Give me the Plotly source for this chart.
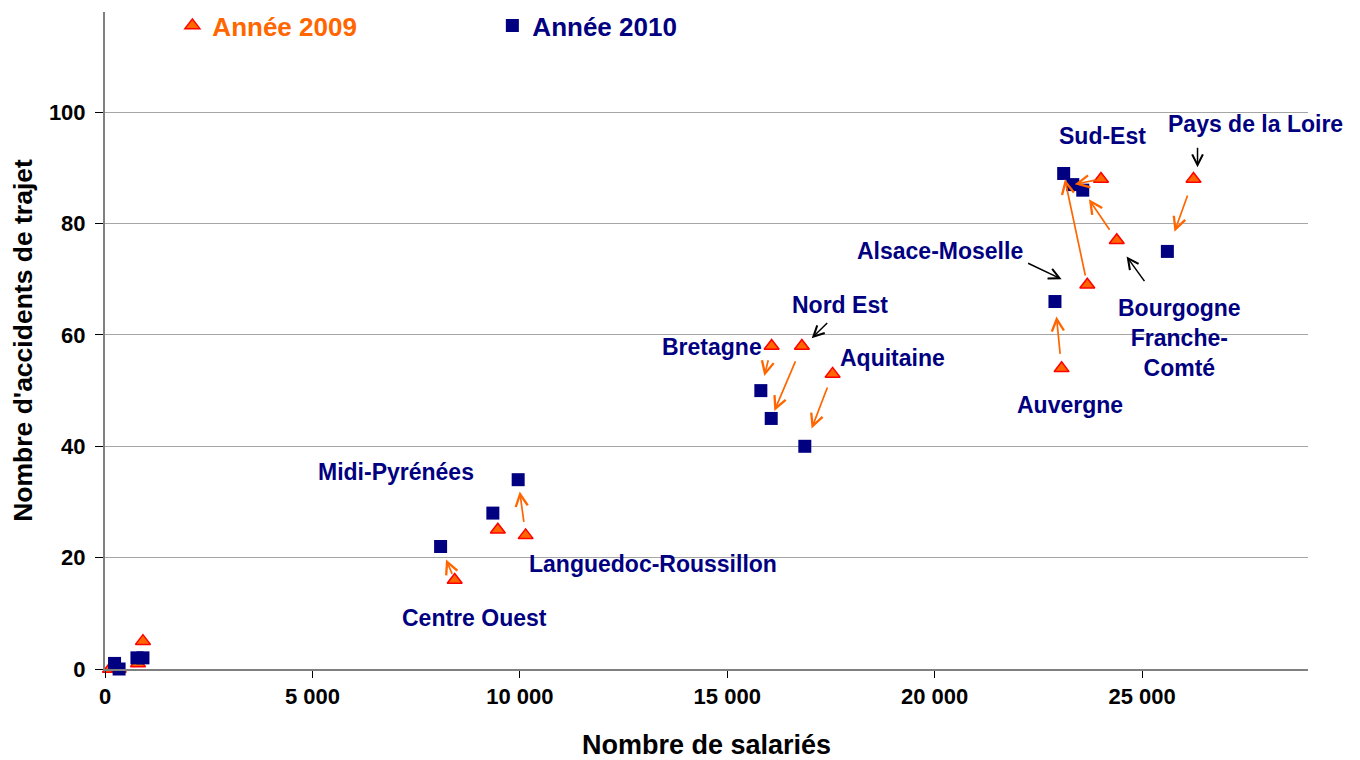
import plotly.graph_objects as go

# ---- data ----
sal_2009 = [8430, 9470, 10140, 16070, 16800, 17540, 23060, 23680, 24010, 24390, 26240, 120, 330, 795, 915]
acc_2009 = [16, 25, 24, 58, 58, 53, 54, 69, 88, 77, 88, 0, 0, 1, 5]
sal_2010 = [8090, 9350, 9960, 15810, 16060, 16870, 22900, 23110, 23330, 23570, 25610, 230, 340, 770, 915]
acc_2010 = [22, 28, 34, 50, 45, 40, 66, 89, 87, 86, 75, 1, 0, 2, 2]

x_tickvals = [0, 5000, 10000, 15000, 20000, 25000]
x_ticktext = ["0", "5 000", "10 000", "15 000", "20 000", "25 000"]
y_tickvals = [0, 20, 40, 60, 80, 100]

# region labels: text, x, y (label centres in data units)
label_text = ["Centre Ouest", "Midi-Pyrénées", "Languedoc-Roussillon", "Bretagne", "Nord Est",
              "Aquitaine", "Auvergne", "Alsace-Moselle", "Sud-Est", "Pays de la Loire",
              "Bourgogne<br>Franche-<br>Comté"]
label_x = [8916, 7012, 13205, 14627, 17711, 18988, 23253, 20120, 24048, 27735, 25904]
label_y = [9.2, 35.3, 18.9, 57.9, 65.3, 55.9, 47.5, 75.0, 95.7, 97.8, 59.4]

# orange arrows 2009 -> 2010 (index into the series) with tail / head standoffs (px)
arrow_idx = [0, 2, 3, 4, 5, 6, 7, 8, 9, 10]
arrow_start_off = [5, 12, 13, 15, 13, 13, 8, 4, 11, 16]
arrow_end_off = [14, 12, 15, 8, 19, 15, 6, 2, 11, 21]

# black pointer arrows: tail (x, y) -> head (x, y)
ptr_tail_x = [26337, 22217, 25084, 17446]
ptr_tail_y = [93.9, 73.0, 69.4, 62.4]
ptr_head_x = [26337, 23060, 24627, 17036]
ptr_head_y = [90.1, 70.0, 74.1, 59.4]

ORANGE = "#FF6600"
NAVY = "#000080"
FONT = "Liberation Sans"

fig = go.Figure()
fig.add_trace(go.Scatter(
    x=sal_2009, y=acc_2009, mode="markers",
    name="<span style='color:#FF6600'>Année 2009</span>",
    marker=dict(symbol="triangle-up", size=13, color=ORANGE, line=dict(color="#FF0000", width=1.5)),
    cliponaxis=False,
))
fig.add_trace(go.Scatter(
    x=sal_2010, y=acc_2010, mode="markers",
    name="<span style='color:#000080'>Année 2010</span>",
    marker=dict(symbol="square", size=13, color=NAVY, line=dict(width=0)),
    cliponaxis=False,
))

annotations = []
for k, i in enumerate(arrow_idx):
    annotations.append(dict(
        x=sal_2010[i], y=acc_2010[i], ax=sal_2009[i], ay=acc_2009[i],
        xref="x", yref="y", axref="x", ayref="y", text="", showarrow=True,
        arrowhead=5, arrowsize=1.4, arrowwidth=1.7, arrowcolor=ORANGE,
        standoff=arrow_end_off[k], startstandoff=arrow_start_off[k],
    ))
for tx, ty, hx, hy in zip(ptr_tail_x, ptr_tail_y, ptr_head_x, ptr_head_y):
    annotations.append(dict(
        x=hx, y=hy, ax=tx, ay=ty, xref="x", yref="y", axref="x", ayref="y",
        text="", showarrow=True, arrowhead=5, arrowsize=1.4, arrowwidth=1.5,
        arrowcolor="#000000",
    ))
for t, lx, ly in zip(label_text, label_x, label_y):
    annotations.append(dict(
        x=lx, y=ly, xref="x", yref="y", text=t, showarrow=False,
        font=dict(family=FONT, size=23, color=NAVY, weight="bold"),
        align="center", xanchor="center", yanchor="middle",
    ))

fig.update_layout(
    width=1352, height=752,
    margin=dict(l=97, r=52, t=4, b=91, autoexpand=False),
    paper_bgcolor="white", plot_bgcolor="white",
    font=dict(family=FONT, color="#000000"),
    showlegend=True,
    legend=dict(
        orientation="h", x=0.056, y=1.0152, xanchor="left", yanchor="top",
        entrywidth=275, entrywidthmode="pixels",
        font=dict(family=FONT, size=26, weight="bold"),
        bgcolor="rgba(0,0,0,0)",
    ),
    annotations=annotations,
    xaxis=dict(
        range=[0, 29000], tickvals=x_tickvals, ticktext=x_ticktext,
        showgrid=False, zeroline=False, showline=True, linecolor="#808080", linewidth=2,
        ticks="outside", ticklen=7, tickwidth=1, tickcolor="#000000",
        tickfont=dict(family=FONT, size=22, weight="bold"),
        title=dict(text="Nombre de salariés", font=dict(family=FONT, size=27, weight="bold"), standoff=28),
    ),
    yaxis=dict(
        range=[0, 118], tickvals=y_tickvals,
        showgrid=True, gridcolor="#a6a6a6", gridwidth=1,
        zeroline=False, showline=True, linecolor="#808080", linewidth=2,
        ticks="outside", ticklen=8, tickwidth=1, tickcolor="#000000",
        ticklabelstandoff=5,
        tickfont=dict(family=FONT, size=22, weight="bold"),
        title=dict(text="Nombre d'accidents de trajet", font=dict(family=FONT, size=26.5, weight="bold"), standoff=14),
    ),
)

fig.write_html("out.html")
